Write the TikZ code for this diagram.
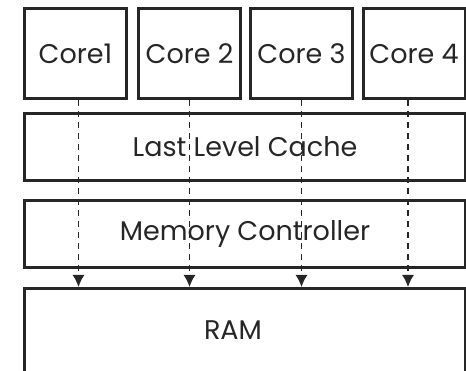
\documentclass[tikz,border=0pt]{standalone}
\usepackage{fontspec}
\setmainfont{Poppins}
\usetikzlibrary{arrows.meta,calc}
\begin{document}
\begin{tikzpicture}[x=1pt,y=-1pt,
  txt/.style={font=\fontsize{27}{31}\selectfont\color{black!85}},
  box/.style={draw=black!85,line width=3pt,inner sep=0pt,anchor=north west,txt},
  link/.style={draw=black!85,line width=1.5pt,dash pattern=on 6pt off 5pt,-{Latex[length=12pt,width=12pt]}}]
\useasboundingbox (0,0) rectangle (466,371);
\clip (0,0) rectangle (466,371);
\node[box,minimum width=102pt,minimum height=90pt] (c1) at (23,7) {Core1};
\node[box,minimum width=102pt,minimum height=90pt] (c2) at (137,7) {Core 2};
\node[box,minimum width=102pt,minimum height=90pt] (c3) at (249,7) {Core 3};
\node[box,minimum width=102pt,minimum height=90pt] (c4) at (361.5,7) {Core 4};
\node[box,minimum width=441pt,minimum height=67pt] (llc) at (23,112) {Last Level Cache};
\node[box,minimum width=441pt,minimum height=67pt] (mc) at (23,199) {Memory Controller};
\node[box,minimum width=441pt,minimum height=110pt] (ram) at (23,287) {};
\node[txt] (ramt) at (233,330) {RAM};
\coordinate (a1) at ($(c1.south)+(3,0)$);
\coordinate (a2) at ($(c2.south)+(0,0)$);
\coordinate (a3) at ($(c3.south)+(0,0)$);
\coordinate (a4) at ($(c4.south)+(-6,0)$);
\foreach \i in {1,...,4}{
  \draw[link] (a\i) -- (a\i |- ram.north);
}
\end{tikzpicture}
\end{document}
